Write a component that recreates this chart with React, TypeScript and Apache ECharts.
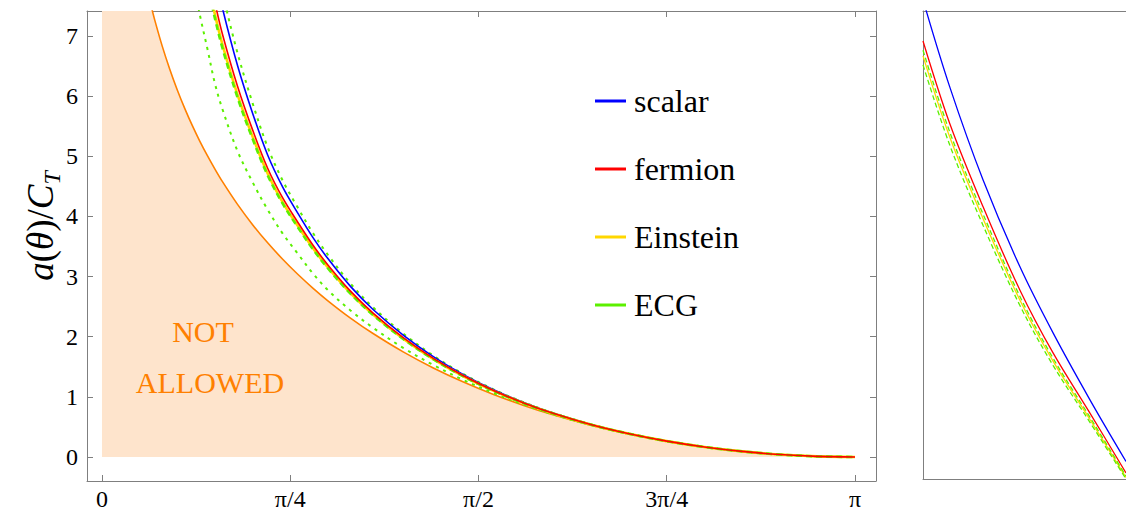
import React, { useEffect, useRef } from "react";
import * as echarts from "echarts";

// ---- data (theta in units of pi, value = a(theta)/C_T) ----
const thetaBound = [0.06, 0.065, 0.07, 0.08, 0.09, 0.1, 0.11, 0.12, 0.13, 0.14, 0.15, 0.16, 0.18, 0.2, 0.22, 0.24, 0.26, 0.28, 0.3, 0.33, 0.36, 0.4, 0.44, 0.48, 0.52, 0.56, 0.6, 0.65, 0.7, 0.75, 0.8, 0.85, 0.9, 0.95, 1.0];
const boundValues = [7.775, 7.513, 7.269, 6.832, 6.448, 6.103, 5.793, 5.509, 5.249, 5.01, 4.787, 4.578, 4.2, 3.863, 3.561, 3.288, 3.038, 2.809, 2.598, 2.31, 2.053, 1.748, 1.481, 1.247, 1.04, 0.858, 0.697, 0.524, 0.38, 0.261, 0.165, 0.092, 0.041, 0.01, 0];
const fillTheta = [0, ...thetaBound];
const fillValues = [8.2, ...boundValues];

const thetaMain = [0.12, 0.13, 0.14, 0.15, 0.16, 0.18, 0.2, 0.22, 0.24, 0.26, 0.28, 0.3, 0.33, 0.36, 0.4, 0.44, 0.48, 0.52, 0.56, 0.6, 0.65, 0.7, 0.75, 0.8, 0.85, 0.9, 0.95, 1.0];
const scalarValues = [null, null, null, 8.042, 7.462, 6.51, 5.717, 5.021, 4.488, 4.056, 3.652, 3.299, 2.837, 2.453, 2.028, 1.669, 1.369, 1.117, 0.906, 0.726, 0.54, 0.388, 0.265, 0.167, 0.093, 0.041, 0.0101, 0];
const fermionValues = [null, null, null, 7.554, 7.03, 6.164, 5.439, 4.802, 4.307, 3.904, 3.525, 3.194, 2.758, 2.394, 1.986, 1.641, 1.351, 1.106, 0.899, 0.722, 0.537, 0.387, 0.264, 0.1665, 0.093, 0.041, 0.0101, 0];
const einsteinValues = [null, null, 7.916, 7.358, 6.858, 6.025, 5.327, 4.715, 4.235, 3.843, 3.475, 3.151, 2.726, 2.369, 1.968, 1.629, 1.343, 1.1, 0.896, 0.72, 0.537, 0.386, 0.264, 0.1663, 0.093, 0.041, 0.0101, 0];
const ecgValues = [null, null, 7.846, 7.293, 6.798, 5.979, 5.291, 4.685, 4.212, 3.822, 3.458, 3.138, 2.716, 2.361, 1.963, 1.626, 1.341, 1.099, 0.895, 0.719, 0.536, 0.386, 0.264, 0.1662, 0.093, 0.041, 0.0101, 0];
const ecgUpperValues = [null, null, null, 8.334, 7.722, 6.718, 5.884, 5.152, 4.596, 4.147, 3.728, 3.363, 2.884, 2.489, 2.053, 1.686, 1.38, 1.124, 0.91, 0.729, 0.541, 0.389, 0.265, 0.167, 0.093, 0.041, 0.0101, 0];
const ecgLowerValues = [7.99, 7.349, 6.789, 6.209, 5.782, 5.086, 4.57, 4.113, 3.715, 3.381, 3.053, 2.775, 2.437, 2.15, 1.814, 1.53, 1.281, 1.063, 0.873, 0.706, 0.529, 0.382, 0.2615, 0.1655, 0.0924, 0.0408, 0.0101, 0];

// inset (zoomed detail, normalised units)
const insetX = [0, 0.1317, 0.296, 0.477, 0.6414, 0.8224, 1];
const insetScalar = [1.024, 0.8378, 0.6387, 0.4539, 0.3116, 0.1692, 0.0376];
const insetFermion = [0.936, 0.7597, 0.5817, 0.404, 0.2689, 0.1408, 0.0128];
const insetEinstein = [0.904, 0.7307, 0.5563, 0.3826, 0.2512, 0.1272, 0.0032];
const insetEcg = [0.9161, 0.7416, 0.5659, 0.3905, 0.2576, 0.1321, 0.0064];
const insetEcgLower = [0.8848, 0.7136, 0.5418, 0.3711, 0.2422, 0.1212, 0];

const xTickValues = [0, 0.25, 0.5, 0.75, 1];
const xTickLabels = ["0", "π/4", "π/2", "3π/4", "π"];
const yTickValues = [0, 1, 2, 3, 4, 5, 6, 7];
const legendNames = ["scalar", "fermion", "Einstein", "ECG"];

const pairs = (xs: number[], ys: (number | null)[]) => xs.map((x, i) => [x, ys[i]]);

const GRAY = "#7f7f7f";
const SERIF = "'Liberation Serif', 'DejaVu Serif', serif";
const BLUE = "#0000ff";
const RED = "#ff0000";
const YELLOW = "#ffd700";
const GREEN = "#5cf000";
const ORANGE = "#ff8000";
const FILL = "#fee4cc";

export default function App() {
  const ref = useRef<HTMLDivElement>(null);
  useEffect(() => {
    if (!ref.current) return;
    const chart = echarts.init(ref.current, null, { renderer: "svg" });
    const line = (name: string, xi: number, data: any, color: string, width: number, type: any, z: number) => ({
      name,
      type: "line",
      xAxisIndex: xi,
      yAxisIndex: xi === 0 ? 0 : 2,
      data,
      symbol: "none",
      showSymbol: false,
      smooth: 0.35,
      clip: true,
      z,
      itemStyle: { color },
      lineStyle: { color, width, type },
      silent: true,
    });
    const frameAxisLine = { show: true, onZero: false, lineStyle: { color: GRAY, width: 1 } };
    const option: any = {
      animation: false,
      backgroundColor: "#ffffff",
      grid: [
        { left: 87, top: 11, width: 789, height: 470, containLabel: false, outerBoundsMode: "none" },
        { left: 923, top: 11, width: 203, height: 468, containLabel: false, outerBoundsMode: "none" },
      ],
      xAxis: [
        {
          gridIndex: 0, type: "value", min: -0.0199, max: 1.0279, position: "bottom",
          axisLine: frameAxisLine,
          axisTick: { show: true, inside: true, length: 6, customValues: xTickValues, lineStyle: { color: GRAY } },
          axisLabel: {
            show: true, customValues: xTickValues, color: "#000", fontFamily: SERIF, fontSize: 24, margin: 6,
            formatter: (v: number) => xTickLabels[xTickValues.indexOf(v)] ?? "",
          },
          splitLine: { show: false },
        },
        {
          gridIndex: 0, type: "value", min: -0.0199, max: 1.0279, position: "top",
          axisLine: frameAxisLine,
          axisTick: { show: true, inside: true, length: 6, customValues: xTickValues, lineStyle: { color: GRAY } },
          axisLabel: { show: false },
          splitLine: { show: false },
        },
        {
          gridIndex: 1, type: "value", min: 0, max: 1, position: "bottom",
          axisLine: frameAxisLine, axisTick: { show: false }, axisLabel: { show: false }, splitLine: { show: false },
        },
        {
          gridIndex: 1, type: "value", min: 0, max: 1, position: "top",
          axisLine: frameAxisLine, axisTick: { show: false }, axisLabel: { show: false }, splitLine: { show: false },
        },
      ],
      yAxis: [
        {
          gridIndex: 0, type: "value", min: -0.399, max: 7.416, position: "left",
          axisLine: frameAxisLine,
          axisTick: { show: true, inside: true, length: 6, customValues: yTickValues, lineStyle: { color: GRAY } },
          axisLabel: { show: true, customValues: yTickValues, color: "#000", fontFamily: SERIF, fontSize: 24, margin: 9 },
          splitLine: { show: false },
        },
        {
          gridIndex: 0, type: "value", min: -0.399, max: 7.416, position: "right",
          axisLine: frameAxisLine,
          axisTick: { show: true, inside: true, length: 6, customValues: yTickValues, lineStyle: { color: GRAY } },
          axisLabel: { show: false },
          splitLine: { show: false },
        },
        {
          gridIndex: 1, type: "value", min: 0, max: 1, position: "left",
          axisLine: frameAxisLine, axisTick: { show: false }, axisLabel: { show: false }, splitLine: { show: false },
        },
      ],
      legend: {
        orient: "vertical",
        left: 590,
        top: 80,
        itemWidth: 31,
        itemHeight: 3,
        itemGap: 36,
        icon: "rect",
        selectedMode: false,
        data: legendNames,
        textStyle: { fontFamily: SERIF, fontSize: 32, color: "#000", lineHeight: 32, padding: [0, 0, 0, 3] },
      },
      graphic: [
        {
          type: "text", x: 203, y: 331, z: 20,
          style: { text: "NOT", fill: ORANGE, fontFamily: SERIF, fontSize: 30, align: "center", verticalAlign: "middle" },
        },
        {
          type: "text", x: 210, y: 382, z: 20,
          style: { text: "ALLOWED", fill: ORANGE, fontFamily: SERIF, fontSize: 30, align: "center", verticalAlign: "middle" },
        },
        {
          type: "text", x: 40, y: 226, rotation: Math.PI / 2, z: 20,
          style: {
            text: "{i|a}{n|(}{i|θ}{n|)/}{i|C}{s|T}",
            align: "center",
            verticalAlign: "middle",
            fill: "#000",
            fontFamily: SERIF,
            fontSize: 37,
            rich: {
              i: { fontFamily: SERIF, fontSize: 37, fontStyle: "italic", lineHeight: 47, verticalAlign: "middle", fill: "#000" },
              n: { fontFamily: SERIF, fontSize: 37, fontStyle: "normal", lineHeight: 47, verticalAlign: "middle", fill: "#000" },
              s: { fontFamily: SERIF, fontSize: 24, fontStyle: "italic", lineHeight: 22, verticalAlign: "bottom", fill: "#000" },
            },
          },
        },
      ],
      series: [
        {
          name: "notAllowedFill", type: "line", xAxisIndex: 0, yAxisIndex: 0,
          data: pairs(fillTheta, fillValues), symbol: "none", showSymbol: false,
          smooth: 0.35, clip: true, z: 1, silent: true,
          lineStyle: { width: 0, opacity: 0 },
          areaStyle: { color: FILL, opacity: 1 },
        },
        line("bound", 0, pairs(thetaBound, boundValues), ORANGE, 1.6, "solid", 3),
        line("ECG lower", 0, pairs(thetaMain, ecgLowerValues), GREEN, 2, [3, 5], 4),
        line("ECG upper", 0, pairs(thetaMain, ecgUpperValues), GREEN, 2, [3, 5], 4),
        line("scalar", 0, pairs(thetaMain, scalarValues), BLUE, 1.6, "solid", 5),
        line("Einstein", 0, pairs(thetaMain, einsteinValues), YELLOW, 2.6, "solid", 5),
        line("ECG", 0, pairs(thetaMain, ecgValues), GREEN, 2.6, [6, 4], 6),
        line("fermion", 0, pairs(thetaMain, fermionValues), RED, 1.6, "solid", 7),
        line("inset scalar", 2, pairs(insetX, insetScalar), BLUE, 1.3, "solid", 5),
        line("inset fermion", 2, pairs(insetX, insetFermion), RED, 1.3, "solid", 5),
        line("inset Einstein", 2, pairs(insetX, insetEinstein), YELLOW, 1.3, "solid", 5),
        line("inset ECG", 2, pairs(insetX, insetEcg), GREEN, 1.3, [5, 3], 6),
        line("inset ECG lower", 2, pairs(insetX, insetEcgLower), GREEN, 1.3, [5, 3], 6),
      ],
    };
    chart.setOption(option);
    return () => chart.dispose();
  }, []);
  return <div ref={ref} style={{ position: "absolute", left: 0, top: 0, width: 1126, height: 511, background: "#fff" }} />;
}
